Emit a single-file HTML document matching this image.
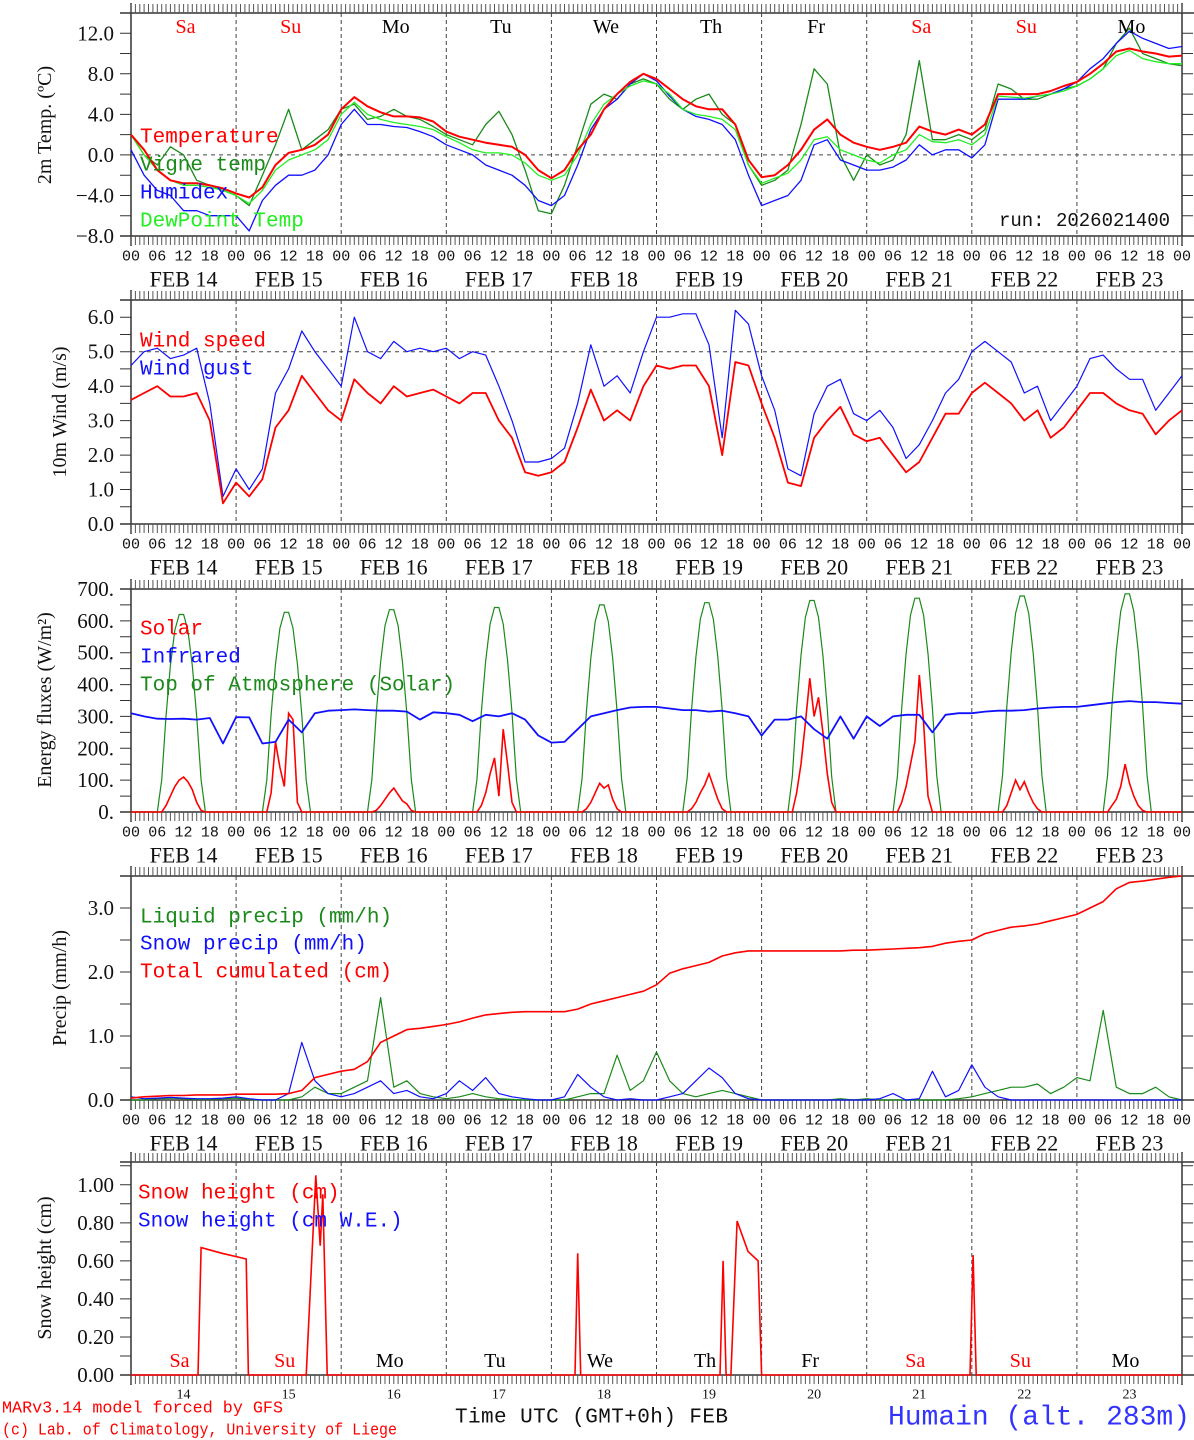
<!DOCTYPE html>
<html><head><meta charset="utf-8"><style>
html,body{margin:0;padding:0;background:#fff;}
svg{display:block;font-family:"Liberation Mono","DejaVu Sans Mono",monospace;}
</style></head><body>
<svg id="chart" width="1194" height="1440" viewBox="0 0 1194 1440" xmlns="http://www.w3.org/2000/svg"></svg>
<script>
// ---------- DATA (3-hourly from Feb 14 00 UTC to Feb 24 00 UTC unless stated) ----------
const dayLabels=["Sa","Su","Mo","Tu","We","Th","Fr","Sa","Su","Mo"];
const dayColors=["red","red","black","black","black","black","black","red","red","black"];
const dateLabels=["FEB 14","FEB 15","FEB 16","FEB 17","FEB 18","FEB 19","FEB 20","FEB 21","FEB 22","FEB 23"];
const dayNums=["14","15","16","17","18","19","20","21","22","23"];
const hourLabels=["00","06","12","18"];

const tempVals=[2.0,0.5,-1.5,-2.5,-2.8,-2.8,-3.0,-3.3, -3.8,-4.2,-3.2,-1.0,0.2,0.5,1.0,2.0, 4.5,5.7,4.8,4.2,3.8,3.8,3.7,3.3, 2.3,1.8,1.5,1.2,1.0,0.8,0.0,-1.5, -2.3,-1.5,0.5,2.0,4.5,6.0,7.2,8.0, 7.5,6.5,5.5,4.8,4.5,4.5,3.0,-0.5, -2.2,-2.0,-1.0,0.5,2.5,3.5,2.0,1.2, 0.8,0.5,0.8,1.2,2.8,2.3,2.0,2.5, 2.0,3.0,6.0,6.0,6.0,6.0,6.3,6.8, 7.2,8.0,9.0,10.2,10.5,10.2,10.0,9.7,9.8];
const vigneVals=[2.0,0.0,-1.0,0.8,0.0,-2.5,-3.0,-3.5, -4.0,-5.0,-2.0,1.0,4.5,0.5,1.5,2.5, 4.5,5.0,3.5,3.8,4.5,3.8,3.5,2.8, 2.0,1.5,1.0,3.0,4.3,2.0,-1.5,-5.5, -5.8,-3.0,1.0,5.0,6.0,5.5,7.0,7.5, 7.0,5.5,4.5,5.5,6.0,4.0,3.0,-1.0, -3.0,-2.5,-1.5,3.0,8.5,7.0,0.0,-2.5, 0.0,-1.0,-0.5,2.0,9.3,1.5,1.5,2.0, 1.5,2.5,7.0,6.5,5.5,5.5,6.0,6.5, 6.8,7.5,8.5,11.0,12.5,10.0,9.5,9.0,8.8];
const humidexVals=[0.5,-2.0,-3.5,-4.0,-5.5,-5.5,-6.0,-6.0, -6.0,-7.5,-4.5,-3.0,-2.0,-2.0,-1.5,0.0, 3.0,4.5,3.0,3.0,2.8,2.7,2.3,1.8, 1.0,0.5,0.0,-1.0,-1.5,-2.0,-3.0,-4.5, -5.0,-4.0,-1.0,2.5,4.5,5.5,7.0,8.0, 7.3,5.8,4.5,3.8,3.5,3.0,1.5,-2.0, -5.0,-4.5,-4.0,-2.5,1.0,1.5,-0.5,-1.0, -1.5,-1.5,-1.2,-0.5,1.0,0.0,0.5,0.5, -0.3,1.0,5.5,5.5,5.5,5.8,6.0,6.5, 7.2,8.5,9.5,11.0,12.2,11.5,11.0,10.5,10.7];
const dewVals=[2.0,0.0,-1.5,-2.5,-3.0,-3.0,-3.2,-3.5, -4.0,-4.8,-3.5,-1.5,-0.5,0.0,0.5,1.5, 4.0,5.2,4.0,3.5,3.2,3.0,2.8,2.5, 1.8,1.2,0.5,0.2,0.2,0.0,-0.8,-2.0, -2.5,-2.0,0.0,3.0,5.0,6.0,6.8,7.3, 7.0,6.0,4.5,4.0,3.8,3.5,2.5,-1.0, -2.8,-2.3,-1.8,-0.5,1.5,1.8,0.5,0.0, -0.5,-0.8,0.0,0.5,2.0,1.3,1.2,1.5, 1.0,2.0,5.8,5.7,5.6,5.8,6.0,6.3, 6.8,7.5,8.5,9.8,10.3,9.5,9.2,9.0,9.0];

const windVals=[3.6,3.8,4.0,3.7,3.7,3.8,3.0,0.6, 1.2,0.8,1.3,2.8,3.3,4.3,3.8,3.3, 3.0,4.2,3.8,3.5,4.0,3.7,3.8,3.9, 3.7,3.5,3.8,3.8,3.0,2.5,1.5,1.4, 1.5,1.8,2.8,3.9,3.0,3.3,3.0,4.0, 4.6,4.5,4.6,4.6,4.0,2.0,4.7,4.6, 3.5,2.5,1.2,1.1,2.5,3.0,3.4,2.6, 2.4,2.5,2.0,1.5,1.8,2.5,3.2,3.2, 3.8,4.1,3.8,3.5,3.0,3.3,2.5,2.8, 3.3,3.8,3.8,3.5,3.3,3.2,2.6,3.0,3.3];
const gustVals=[4.6,5.0,5.1,4.8,4.9,5.1,3.5,0.8, 1.6,1.0,1.6,3.8,4.5,5.6,5.0,4.5, 4.0,6.0,5.0,4.8,5.3,5.0,5.1,5.0, 5.1,4.8,5.0,4.9,4.0,3.0,1.8,1.8, 1.9,2.2,3.5,5.2,4.0,4.3,3.8,5.0, 6.0,6.0,6.1,6.1,5.2,2.5,6.2,5.8, 4.3,3.3,1.6,1.4,3.2,4.0,4.2,3.2, 3.0,3.3,2.8,1.9,2.3,3.0,3.8,4.2, 5.0,5.3,5.0,4.7,3.8,4.0,3.0,3.5, 4.0,4.8,4.9,4.5,4.2,4.2,3.3,3.8,4.3];

// hourly day-time values, hours 06..18 for each day
const solarDays=[[0,0,20,50,80,100,110,95,70,30,5,0,0],[0,0,60,220,140,80,310,290,30,0,0,0,0],[0,0,5,20,40,60,75,55,35,25,5,0,0],[0,0,20,60,120,170,50,260,150,30,0,0,0],[0,0,10,30,60,90,75,85,40,10,0,0,0],[0,0,10,30,60,85,120,80,40,10,0,0,0],[0,0,60,150,280,420,300,360,250,120,30,0,0],[0,0,30,80,150,220,430,280,50,0,0,0,0],[0,0,20,60,100,70,95,60,30,10,0,0,0],[0,0,20,40,80,150,90,50,20,5,0,0,0]];
const toaDays=[[0,100,300,460,570,620,620,570,460,300,100,0,0],[0,100,305,465,577,627,627,577,465,305,100,0,0],[0,102,308,470,585,635,635,585,470,308,102,0,0],[0,104,312,475,590,642,642,590,475,312,104,0,0],[0,106,315,482,598,650,650,598,482,315,106,0,0],[0,108,320,487,605,657,657,605,487,320,108,0,0],[0,110,323,492,611,664,664,611,492,323,110,0,0],[0,112,326,497,618,671,671,618,497,326,112,0,0],[0,114,330,502,624,678,678,624,502,330,114,0,0],[0,116,333,507,630,685,685,630,507,333,116,0,0]];
const infraVals=[310,300,293,292,293,290,295,215, 298,297,215,220,290,250,310,318, 320,322,320,318,318,315,290,313, 310,305,285,305,300,310,290,240, 218,220,260,300,310,320,328,330, 330,325,320,320,315,318,310,300, 240,290,290,300,260,230,300,230, 300,270,300,305,305,250,305,310, 310,315,318,318,320,325,328,330, 330,335,340,345,348,345,345,342,340];

const liquidVals=[0,0,0.02,0.03,0.02,0.01,0.01,0.02, 0.03,0.01,0,0,0,0.05,0.2,0.1, 0.1,0.2,0.3,1.6,0.2,0.3,0.1,0.05, 0.02,0.05,0.1,0.05,0.02,0.01,0,0, 0,0,0.05,0.1,0.1,0.7,0.15,0.3, 0.75,0.3,0.1,0.05,0.1,0.15,0.1,0.05, 0,0,0,0,0,0,0.02,0, 0.02,0,0,0,0,0,0,0.02, 0.05,0.1,0.15,0.2,0.2,0.25,0.1,0.2, 0.35,0.3,1.4,0.2,0.1,0.1,0.2,0.05,0];
const snowPVals=[0.05,0.02,0.03,0.04,0.03,0.02,0.02,0.03, 0.05,0.02,0,0,0.1,0.9,0.3,0.1, 0.05,0.1,0.2,0.3,0.1,0.15,0.05,0.02, 0.1,0.3,0.15,0.35,0.1,0.05,0.02,0, 0,0.05,0.4,0.2,0.05,0,0.02,0, 0,0.05,0.1,0.3,0.5,0.35,0.1,0.02, 0,0,0,0,0,0,0,0, 0,0.02,0.1,0,0.02,0.45,0.05,0.15, 0.55,0.2,0.05,0,0,0,0,0, 0,0,0,0,0,0,0,0,0];
const cumVals=[0.03,0.05,0.06,0.07,0.07,0.08,0.08,0.08, 0.09,0.09,0.09,0.09,0.10,0.15,0.35,0.40, 0.45,0.48,0.6,0.9,1.0,1.1,1.12,1.15, 1.18,1.22,1.28,1.33,1.35,1.37,1.38,1.38, 1.38,1.38,1.42,1.5,1.55,1.6,1.65,1.7, 1.8,1.98,2.05,2.1,2.15,2.25,2.3,2.33, 2.33,2.33,2.33,2.33,2.33,2.33,2.33,2.34, 2.34,2.35,2.36,2.37,2.38,2.4,2.45,2.48, 2.5,2.6,2.65,2.7,2.72,2.75,2.8,2.85, 2.9,3.0,3.1,3.3,3.4,3.42,3.45,3.48,3.5];

const snowHours=[0,15.3,16,20.8,26.3,26.8,40,42.2,43.2,43.8,44.8,101.4,102,102.7,134.5,135.2,135.9,137,138.4,140.9,143.2,144,191.6,192.3,193,240];
const snowHeights=[0,0,0.67,0.64,0.61,0,0,1.05,0.68,0.95,0,0,0.64,0,0,0.6,0,0,0.81,0.65,0.6,0,0,0.63,0,0];

// ---------- DRAWING ----------
const svg=document.getElementById('chart');
const NS="http://www.w3.org/2000/svg";
const X0=131,X1=1182;
function xh(h){return X0+h*(X1-X0)/240;}
function el(tag,attrs,parent){const e=document.createElementNS(NS,tag);for(const k in attrs)e.setAttribute(k,attrs[k]);(parent||svg).appendChild(e);return e;}
function txt(s,x,y,size,color,anchor,parent){const t=el('text',{x:x,y:y,'font-size':size,fill:color,'text-anchor':anchor||'start','dominant-baseline':'central'},parent);t.textContent=s;return t;}

function panel(name,top,bot,ymin,ymax,ticks,fmt,minor){
  const g=el('g',{});
  
  
  const y=v=>bot-(v-ymin)*(bot-top)/(ymax-ymin);
  el('line',{x1:120,y1:top,x2:1194,y2:top,stroke:'#333','stroke-width':1.5},g);
  el('line',{x1:120,y1:bot,x2:1194,y2:bot,stroke:'#333','stroke-width':1.5},g);
  el('line',{x1:X0,y1:top-10,x2:X0,y2:bot+10,stroke:'#333','stroke-width':1.5},g);
  el('line',{x1:X1,y1:top-10,x2:X1,y2:bot+10,stroke:'#333','stroke-width':1.5},g);
  let d='';
  for(let h=0;h<=240;h++){const x=xh(h).toFixed(1);d+=`M${x} ${top-9}V${top}M${x} ${bot}V${bot+9}`;}
  el('path',{d:d,stroke:'#555','stroke-width':1},g);
  let dm='';
  for(let v=ymin;v<=ymax+1e-9;v+=minor){const yy=y(v).toFixed(1);dm+=`M${X0-11} ${yy}H${X0}M${X1} ${yy}H${X1+11}`;}
  el('path',{d:dm,stroke:'#333','stroke-width':1},g);
  ticks.forEach(v=>{const t=txt(fmt(v),X0-17,y(v),19,'#111','end',g);t.setAttribute('font-family','Liberation Serif, serif');t.setAttribute('font-size','21');});
  let dd='';
  for(let i=1;i<10;i++){const x=xh(i*24).toFixed(1);dd+=`M${x} ${top}V${bot}`;}
  el('path',{d:dd,stroke:'#444','stroke-width':1,'stroke-dasharray':'4,3'},g);
  return {g,y};
}
function series(p,vals,step,color,w,name){
  const pts=vals.map((v,i)=>xh(i*step).toFixed(1)+','+p.y(v).toFixed(1)).join(' ');
  const e=el('polyline',{points:pts,fill:'none',stroke:color,'stroke-width':w,'stroke-linejoin':'round'},p.g);
  
  
}
function seriesXY(p,hs,vals,color,w,name){
  const pts=vals.map((v,i)=>xh(hs[i]).toFixed(1)+','+p.y(v).toFixed(1)).join(' ');
  const e=el('polyline',{points:pts,fill:'none',stroke:color,'stroke-width':w},p.g);
  
  
}
function dayArr(days){const hs=[0],vs=[0];days.forEach((a,d)=>a.forEach((v,i)=>{hs.push(d*24+6+i);vs.push(v);}));hs.push(240);vs.push(0);return [hs,vs];}
function xLabels(yh,yd){
  for(let d=0;d<10;d++){
    for(let k=0;k<4;k++){const t=txt(hourLabels[k],xh(d*24+k*6),yh,15,'#111','middle');}
    const t=txt(dateLabels[d],xh(d*24+12),yd,20,'#111','middle');
    t.setAttribute('font-family','Liberation Serif, serif');t.setAttribute('font-size','22');
    
  }
  const t=txt('00',xh(240),yh,15,'#111','middle');
}
function ytitle(s,x,y){const t=txt(s,x,y,20,'#111','middle');t.setAttribute('transform',`rotate(-90 ${x} ${y})`);t.setAttribute('font-family','Liberation Serif, serif');}
function legend(s,x,y,c){const t=txt(s,x,y,21,c,'start');}

// Panel 1 temperature
const p1=panel('temperature-panel',13,236,-8,14,[-8,-4,0,4,8,12],v=>v.toFixed(1).replace('-','−'),2);
el('line',{x1:X0,y1:p1.y(0),x2:X1,y2:p1.y(0),stroke:'#444','stroke-dasharray':'4,4'},p1.g);
series(p1,vigneVals,3,'#1a8a1a',1.3,'vigne-temp-line');
series(p1,humidexVals,3,'#1010ff',1.3,'humidex-line');
series(p1,dewVals,3,'#22ee22',1.3,'dewpoint-line');
series(p1,tempVals,3,'#ff0000',2,'temperature-line');
for(let d=0;d<10;d++){const t=txt(dayLabels[d],xh(d*24+12)+2,27,20,dayColors[d],'middle');t.setAttribute('font-family','Liberation Serif, serif');}
legend('Temperature',140,138,'#ff0000');legend('Vigne temp',140,166,'#1a8a1a');legend('Humidex',140,194,'#1010ff');legend('DewPoint Temp',140,222,'#22ee22');
{const t=txt('run: 2026021400',1170,221,19,'#111','end');}
ytitle('2m Temp. (ºC)',45,125);
xLabels(257,279);

// Panel 2 wind
const p2=panel('wind-panel',300,524,0,6.5,[0,1,2,3,4,5,6],v=>v.toFixed(1),0.5);
el('line',{x1:X0,y1:p2.y(5),x2:X1,y2:p2.y(5),stroke:'#444','stroke-dasharray':'4,4'},p2.g);
series(p2,gustVals,3,'#1010ff',1.2,'wind-gust-line');
series(p2,windVals,3,'#ff0000',1.8,'wind-speed-line');
legend('Wind speed',140,342,'#ff0000');legend('Wind gust',140,370,'#1010ff');
ytitle('10m Wind (m/s)',60,412);
xLabels(545,567);

// Panel 3 energy
const p3=panel('energy-panel',589,812,0,700,[0,100,200,300,400,500,600,700],v=>v.toFixed(0)+'.',50);
{const [h,v]=dayArr(toaDays);seriesXY(p3,h,v,'#1a8a1a',1.2,'toa-solar-line');}
{const [h,v]=dayArr(solarDays);seriesXY(p3,h,v,'#ff0000',1.6,'solar-line');}
series(p3,infraVals,3,'#1010ff',1.8,'infrared-line');
legend('Solar',140,630,'#ff0000');legend('Infrared',140,658,'#1010ff');legend('Top of Atmosphere (Solar)',140,686,'#1a8a1a');
ytitle('Energy fluxes (W/m²)',45,700);
xLabels(833,855);

// Panel 4 precip
const p4=panel('precip-panel',876,1100,0,3.5,[0,1,2,3],v=>v.toFixed(1),0.5);
series(p4,liquidVals,3,'#1a8a1a',1.2,'liquid-precip-line');
series(p4,snowPVals,3,'#1010ff',1.2,'snow-precip-line');
series(p4,cumVals,3,'#ff0000',1.6,'cumulated-precip-line');
legend('Liquid precip (mm/h)',140,918,'#1a8a1a');legend('Snow precip (mm/h)',140,945,'#1010ff');legend('Total cumulated (cm)',140,973,'#ff0000');
ytitle('Precip (mm/h)',60,988);
xLabels(1121,1143);

// Panel 5 snow height
const p5=panel('snow-panel',1162,1375,0,1.12,[0,0.2,0.4,0.6,0.8,1.0],v=>v.toFixed(2),0.1);
seriesXY(p5,snowHours,snowHeights,'#ff0000',1.6,'snow-height-line');
for(let d=0;d<10;d++){
  const t=txt(dayLabels[d],xh(d*24+12)-4,1361,20,dayColors[d],'middle');t.setAttribute('font-family','Liberation Serif, serif');
  const n=txt(dayNums[d],xh(d*24+12),1395,14,'#111','middle');n.setAttribute('font-family','Liberation Serif, serif');
}
legend('Snow height (cm)',138,1194,'#ff0000');legend('Snow height (cm W.E.)',138,1222,'#1010ff');
ytitle('Snow height (cm)',45,1268);

{const t=txt('Time UTC (GMT+0h) FEB',455,1418,21,'#111','start');t.setAttribute('textLength','273');}
{const t=txt('MARv3.14 model forced by GFS',2,1408,16.5,'#ff0000','start');t.setAttribute('textLength','281');t.setAttribute('lengthAdjust','spacingAndGlyphs');}
{const t=txt('(c) Lab. of Climatology, University of Liege',2,1430,16.5,'#ff0000','start');t.setAttribute('textLength','395');t.setAttribute('lengthAdjust','spacingAndGlyphs');}
{const t=txt('Humain (alt. 283m)',888,1418,28,'#3333ff','start');t.setAttribute('textLength','302');}
</script>
</body></html>
